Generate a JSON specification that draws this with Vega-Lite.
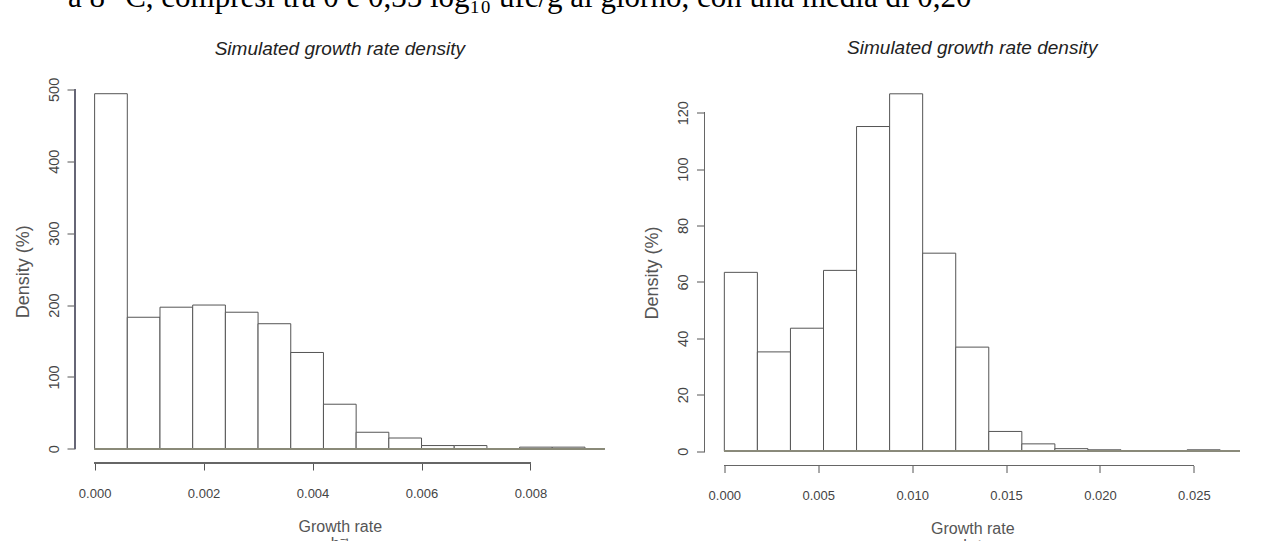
{
  "$schema": "https://vega.github.io/schema/vega-lite/v6.json",
  "background": "white",
  "padding": {"left": 14, "top": -18.5, "right": 0, "bottom": 0},
  "title": {
    "text": "a 8 °C, compresi tra 0 e 0,35 log₁₀ ufc/g al giorno, con una media di 0,20",
    "font": "Liberation Serif",
    "fontSize": 31,
    "fontWeight": "normal",
    "fontStyle": "normal",
    "color": "#000000",
    "anchor": "start",
    "frame": "bounds",
    "dx": 54,
    "offset": 25
  },
  "config": {
    "view": {"stroke": null},
    "font": "Liberation Sans",
    "title": {"font": "Liberation Sans", "fontSize": 19, "fontStyle": "italic", "fontWeight": "normal", "color": "#222222", "anchor": "middle"},
    "axis": {
      "domain": false,
      "grid": false,
      "tickColor": "#555555",
      "labelFont": "Liberation Sans",
      "labelColor": "#444444",
      "titleFont": "Liberation Sans",
      "titleFontWeight": "normal",
      "titleColor": "#555555"
    },
    "axisX": {"tickSize": 7, "labelFontSize": 13, "labelPadding": 17, "titleFontSize": 16, "titlePadding": 18, "titleLineHeight": 17},
    "axisY": {"tickSize": 8, "labelFontSize": 14.5, "labelAngle": -90, "labelAlign": "center", "labelBaseline": "bottom", "labelPadding": 6, "titleFontSize": 18, "titlePadding": 14}
  },
  "spacing": 99.5,
  "bounds": "flush",
  "hconcat": [
    {
      "width": 529.6,
      "height": 383.5,
      "title": {"text": "Simulated growth rate density", "offset": 18, "frame": "group"},
      "data": {"values": [
        {"start": 0.0000, "end": 0.0006, "density": 494},
        {"start": 0.0006, "end": 0.0012, "density": 183},
        {"start": 0.0012, "end": 0.0018, "density": 197},
        {"start": 0.0018, "end": 0.0024, "density": 200},
        {"start": 0.0024, "end": 0.0030, "density": 190},
        {"start": 0.0030, "end": 0.0036, "density": 174},
        {"start": 0.0036, "end": 0.0042, "density": 134},
        {"start": 0.0042, "end": 0.0048, "density": 62},
        {"start": 0.0048, "end": 0.0054, "density": 23},
        {"start": 0.0054, "end": 0.0060, "density": 15},
        {"start": 0.0060, "end": 0.0066, "density": 4.5},
        {"start": 0.0066, "end": 0.0072, "density": 4.5},
        {"start": 0.0072, "end": 0.0078, "density": 0},
        {"start": 0.0078, "end": 0.0084, "density": 2.3},
        {"start": 0.0084, "end": 0.0090, "density": 2.3}
      ]},
      "layer": [
        {
          "mark": {"type": "rect", "fill": "white", "stroke": "#555555", "strokeWidth": 1},
          "encoding": {
            "x": {"field": "start", "type": "quantitative",
                  "scale": {"domain": [-0.00036, 0.00936], "nice": false, "zero": false},
                  "axis": {"values": [0, 0.002, 0.004, 0.006, 0.008], "format": ".3f", "title": ["Growth rate", "h⁻¹"]}},
            "x2": {"field": "end"},
            "y": {"field": "density", "type": "quantitative",
                  "scale": {"domain": [-19.76, 513.76], "nice": false, "zero": false},
                  "axis": {"values": [0, 100, 200, 300, 400, 500], "title": "Density (%)"}},
            "y2": {"datum": 0}
          }
        },
        {
          "mark": {"type": "rule", "color": "#8a8a7a", "strokeWidth": 1},
          "encoding": {"x": {"datum": 0}, "x2": {"datum": 0.00936}, "y": {"datum": 0}}
        },
        {
          "mark": {"type": "rule", "color": "#666666", "strokeWidth": 1},
          "encoding": {"x": {"datum": 0}, "x2": {"datum": 0.008}, "y": {"datum": -19.76}}
        },
        {
          "mark": {"type": "rule", "color": "#666677", "strokeWidth": 1},
          "encoding": {"x": {"datum": -0.00036}, "y": {"datum": 0}, "y2": {"datum": 500}}
        }
      ]
    },
    {
      "width": 535.5,
      "height": 386,
      "title": {"text": "Simulated growth rate density", "offset": 22, "frame": "group"},
      "data": {"values": [
        {"start": 0.00000, "end": 0.00176, "density": 63.4},
        {"start": 0.00176, "end": 0.00352, "density": 35.2},
        {"start": 0.00352, "end": 0.00528, "density": 43.6},
        {"start": 0.00528, "end": 0.00704, "density": 64.1},
        {"start": 0.00704, "end": 0.00880, "density": 115.1},
        {"start": 0.00880, "end": 0.01056, "density": 126.7},
        {"start": 0.01056, "end": 0.01232, "density": 70.2},
        {"start": 0.01232, "end": 0.01408, "density": 36.9},
        {"start": 0.01408, "end": 0.01584, "density": 7.0},
        {"start": 0.01584, "end": 0.01760, "density": 2.6},
        {"start": 0.01760, "end": 0.01936, "density": 0.9},
        {"start": 0.01936, "end": 0.02112, "density": 0.5},
        {"start": 0.02112, "end": 0.02288, "density": 0.2},
        {"start": 0.02288, "end": 0.02464, "density": 0.2},
        {"start": 0.02464, "end": 0.02640, "density": 0.5}
      ]},
      "layer": [
        {
          "mark": {"type": "rect", "fill": "white", "stroke": "#555555", "strokeWidth": 1},
          "encoding": {
            "x": {"field": "start", "type": "quantitative",
                  "scale": {"domain": [-0.001056, 0.027456], "nice": false, "zero": false},
                  "axis": {"values": [0, 0.005, 0.01, 0.015, 0.02, 0.025], "format": ".3f", "title": ["Growth rate", "h⁻¹"]}},
            "x2": {"field": "end"},
            "y": {"field": "density", "type": "quantitative",
                  "scale": {"domain": [-5.07, 131.77], "nice": false, "zero": false},
                  "axis": {"values": [0, 20, 40, 60, 80, 100, 120], "title": "Density (%)"}},
            "y2": {"datum": 0}
          }
        },
        {
          "mark": {"type": "rule", "color": "#8a8a7a", "strokeWidth": 1},
          "encoding": {"x": {"datum": 0}, "x2": {"datum": 0.027456}, "y": {"datum": 0}}
        },
        {
          "mark": {"type": "rule", "color": "#666666", "strokeWidth": 1},
          "encoding": {"x": {"datum": 0}, "x2": {"datum": 0.025}, "y": {"datum": -5.07}}
        },
        {
          "mark": {"type": "rule", "color": "#666666", "strokeWidth": 1},
          "encoding": {"x": {"datum": -0.001056}, "y": {"datum": 0}, "y2": {"datum": 120}}
        }
      ]
    }
  ]
}
